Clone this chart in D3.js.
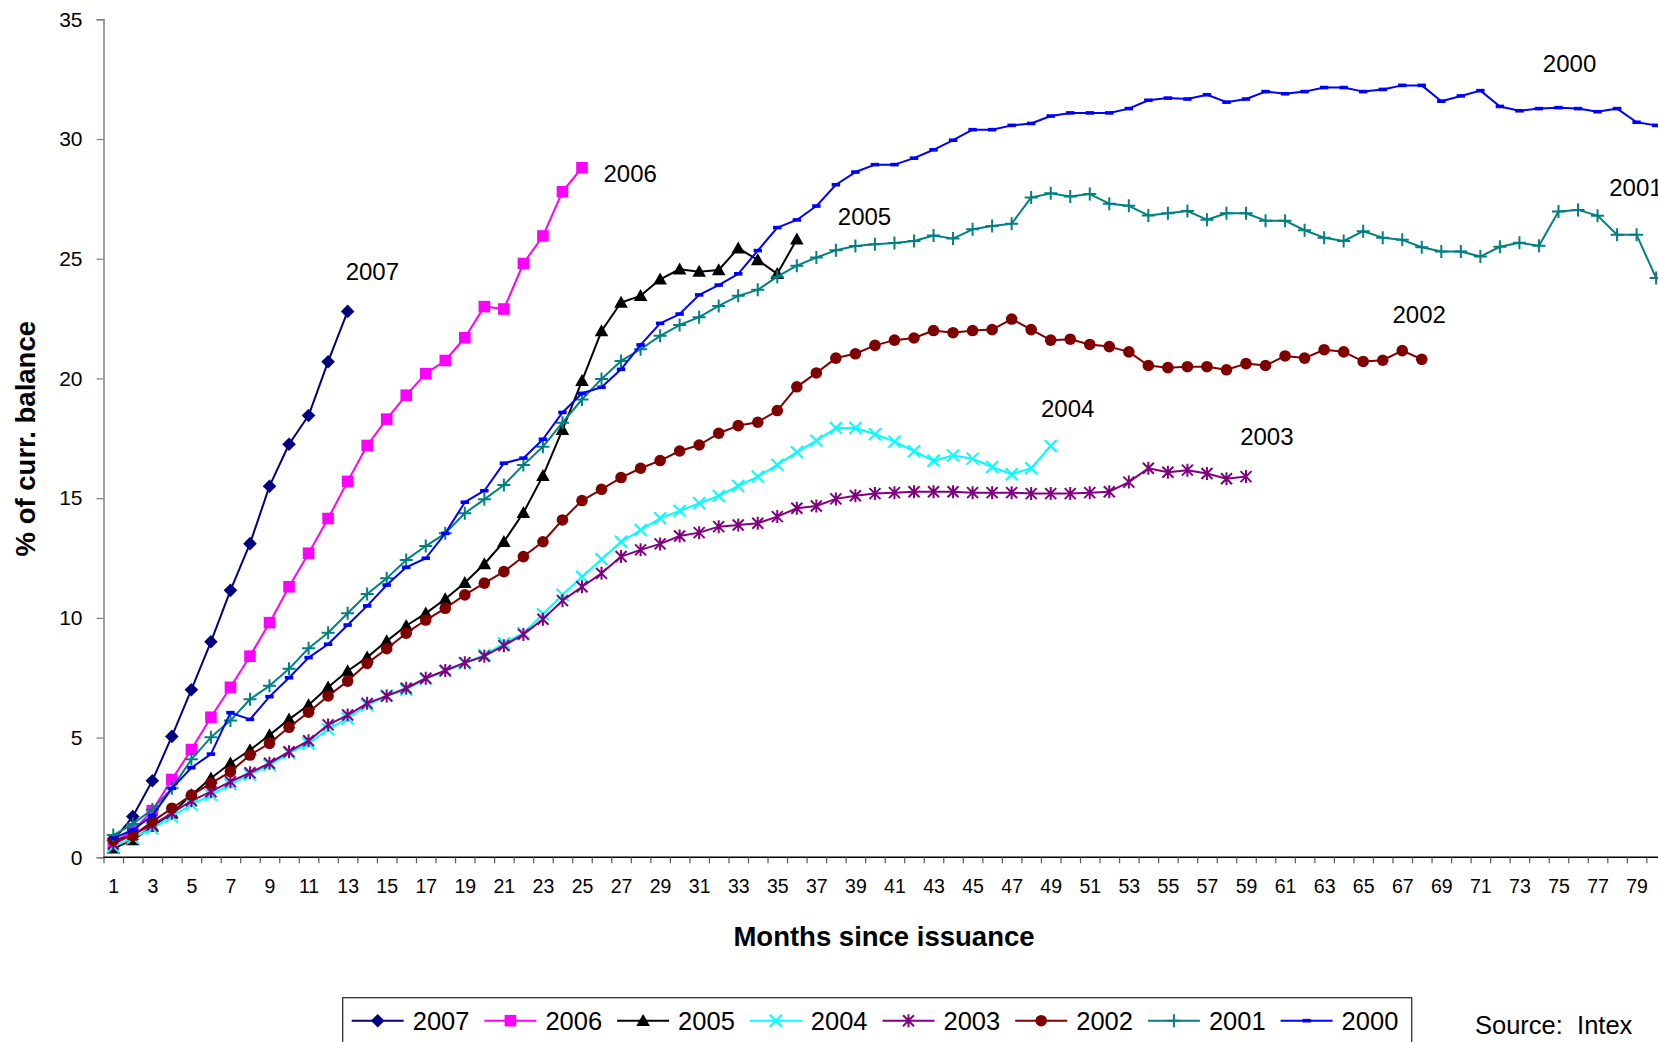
<!DOCTYPE html>
<html>
<head>
<meta charset="utf-8">
<script src="https://cdn.jsdelivr.net/npm/d3@7"></script>
<style>
  html, body { margin: 0; padding: 0; background: #fff; overflow: hidden; }
  svg { display: block; font-family: "Liberation Sans", Arial, Helvetica, sans-serif; }
</style>
</head>
<body>
<svg id="chart" width="1658" height="1042"></svg>
<script>
// ---- data: cumulative % of current balance by months since issuance ----
const years = ["2007", "2006", "2005", "2004", "2003", "2002", "2001", "2000"];
const xTickLabels = d3.range(1, 80, 2);          // 1, 3, 5, ... 79
const yTicks = [0, 5, 10, 15, 20, 25, 30, 35];

const s2007 = [0.7, 1.7, 3.2, 5.05, 7.0, 9.0, 11.15, 13.1, 15.5, 17.25, 18.45, 20.7, 22.8];
const s2006 = [0.6, 1.1, 1.95, 3.25, 4.5, 5.85, 7.1, 8.4, 9.8, 11.3, 12.7, 14.15, 15.7, 17.2, 18.3,
  19.3, 20.2, 20.75, 21.7, 23.0, 22.9, 24.8, 25.95, 27.8, 28.8];
const s2005 = [0.38, 0.72, 1.28, 1.84, 2.6, 3.3, 3.93, 4.48, 5.11, 5.76, 6.36, 7.1, 7.78, 8.35, 9.03,
  9.67, 10.19, 10.79, 11.47, 12.25, 13.18, 14.39, 15.93, 17.85, 19.9, 21.98, 23.17, 23.45, 24.14,
  24.56, 24.46, 24.53, 25.44, 24.95, 24.37, 25.81];
const s2004 = [0.45, 0.8, 1.2, 1.7, 2.2, 2.6, 3.05, 3.45, 3.85, 4.35, 4.75, 5.35, 5.8, 6.35, 6.75,
  7.0, 7.45, 7.78, 8.1, 8.45, 8.94, 9.36, 10.15, 10.96, 11.72, 12.45, 13.18, 13.67, 14.16, 14.47,
  14.79, 15.09, 15.51, 15.9, 16.39, 16.92, 17.4, 17.93, 17.93, 17.67, 17.36, 16.96, 16.56, 16.78,
  16.65, 16.3, 16.0, 16.25, 17.18];
const s2003 = [0.55, 0.95, 1.35, 1.84, 2.36, 2.74, 3.16, 3.53, 3.93, 4.41, 4.87, 5.53, 5.94, 6.43,
  6.74, 7.06, 7.48, 7.8, 8.13, 8.4, 8.84, 9.31, 9.94, 10.72, 11.3, 11.86, 12.56, 12.84, 13.09,
  13.42, 13.56, 13.81, 13.88, 13.95, 14.23, 14.58, 14.67, 14.97, 15.1, 15.19, 15.23, 15.27, 15.27,
  15.27, 15.23, 15.23, 15.23, 15.19, 15.19, 15.19, 15.23, 15.27, 15.67, 16.25, 16.08, 16.17,
  16.03, 15.81, 15.9];
const s2002 = [0.72, 0.9, 1.49, 2.05, 2.6, 3.09, 3.58, 4.27, 4.76, 5.43, 6.06, 6.74, 7.36, 8.1,
  8.71, 9.36, 9.91, 10.4, 10.96, 11.45, 11.93, 12.56, 13.18, 14.09, 14.9, 15.37, 15.86, 16.25,
  16.57, 16.97, 17.22, 17.71, 18.03, 18.17, 18.66, 19.65, 20.23, 20.85, 21.03, 21.38, 21.6, 21.69,
  22.0, 21.91, 22.0, 22.04, 22.48, 22.04, 21.6, 21.64, 21.42, 21.33, 21.11, 20.54, 20.45, 20.49,
  20.49, 20.36, 20.62, 20.54, 20.94, 20.85, 21.2, 21.11, 20.71, 20.76, 21.16, 20.8];
const s2001 = [0.93, 1.39, 2.0, 2.88, 4.09, 5.01, 5.71, 6.6, 7.16, 7.87, 8.73, 9.38, 10.19, 11.0,
  11.65, 12.42, 13.0, 13.53, 14.37, 14.95, 15.55, 16.39, 17.15, 18.15, 19.12, 19.98, 20.73, 21.22,
  21.78, 22.23, 22.56, 23.03, 23.45, 23.7, 24.25, 24.71, 25.05, 25.35, 25.53, 25.6, 25.66, 25.74,
  25.97, 25.84, 26.23, 26.37, 26.46, 27.56, 27.73, 27.6, 27.7, 27.3, 27.21, 26.81, 26.9, 26.99,
  26.63, 26.9, 26.9, 26.59, 26.59, 26.19, 25.88, 25.74, 26.15, 25.88, 25.79, 25.48, 25.3, 25.3,
  25.09, 25.5, 25.67, 25.54, 26.97, 27.04, 26.8, 26.0, 26.0, 24.19];
const s2000 = [0.79, 1.14, 1.74, 2.88, 3.74, 4.31, 6.04, 5.76, 6.71, 7.5, 8.34, 8.9, 9.7, 10.5,
  11.37, 12.11, 12.49, 13.53, 14.83, 15.31, 16.46, 16.67, 17.46, 18.58, 19.38, 19.63, 20.38, 21.4,
  22.3, 22.69, 23.49, 23.9, 24.37, 25.34, 26.3, 26.62, 27.2, 28.09, 28.62, 28.93, 28.93, 29.2,
  29.55, 29.95, 30.39, 30.39, 30.57, 30.65, 30.96, 31.09, 31.09, 31.09, 31.27, 31.62, 31.71,
  31.67, 31.85, 31.54, 31.67, 31.98, 31.89, 31.98, 32.15, 32.15, 31.98, 32.07, 32.24, 32.24,
  31.58, 31.8, 32.02, 31.36, 31.18, 31.27, 31.31, 31.27, 31.14, 31.27, 30.7, 30.57];

// in-plot year labels, anchored in data units (month, %)
const labelMonths = [12.9, 26.1, 38.1, 48.5, 58.7, 66.5, 77.6, 74.2];
const labelValues = [24.1, 28.2, 26.4, 18.4, 17.2, 22.3, 27.6, 32.8];

// ---- styling ----
const colors = {
  "2007": "#000080", "2006": "#FF00FF", "2005": "#000000", "2004": "#00FFFF",
  "2003": "#800080", "2002": "#800000", "2001": "#008080", "2000": "#0000FF"
};
const shapes = {
  "2007": "diamond", "2006": "square", "2005": "triangle", "2004": "x",
  "2003": "star", "2002": "circle", "2001": "plus", "2000": "dash"
};
const values = { "2007": s2007, "2006": s2006, "2005": s2005, "2004": s2004,
                 "2003": s2003, "2002": s2002, "2001": s2001, "2000": s2000 };

const svg = d3.select("#chart");
const W = 1658;

// month m sits at the centre of its category slot
const x = d3.scaleLinear().domain([0.5, 80.5]).range([103.5, 103.5 + 80 * 19.53]);
const y = d3.scaleLinear().domain([0, 35]).range([857.3, 19.3]);

// ---- axes ----
const yAxis = svg.append("g")
  .attr("transform", `translate(${x(0.5)},0)`)
  .call(d3.axisLeft(y).tickValues(yTicks).tickSize(7).tickPadding(14));
yAxis.select(".domain").attr("stroke", "#808080").attr("stroke-width", 1.5);
yAxis.selectAll(".tick line").attr("stroke", "#808080").attr("stroke-width", 1.2);
yAxis.selectAll(".tick text").attr("font-size", 21).attr("fill", "#000")
  .attr("font-family", "Liberation Sans, Arial, sans-serif");

const xTickAxis = svg.append("g")
  .attr("transform", `translate(0,${y(0)})`)
  .call(d3.axisBottom(x).tickValues(d3.range(0.5, 81, 1)).tickSize(6).tickFormat(""));
xTickAxis.select(".domain").attr("stroke", "#000").attr("stroke-width", 1.5)
  .attr("d", `M${x(0.5)},0H${x(80.5)}`);
xTickAxis.selectAll(".tick line").attr("stroke", "#555").attr("stroke-width", 1.2);

const xLabelAxis = svg.append("g")
  .attr("transform", `translate(0,${y(0)})`)
  .call(d3.axisBottom(x).tickValues(xTickLabels).tickSize(0).tickPadding(22).tickFormat(d3.format("d")));
xLabelAxis.select(".domain").remove();
xLabelAxis.selectAll(".tick text").attr("font-size", 19.5).attr("fill", "#000")
  .attr("font-family", "Liberation Sans, Arial, sans-serif");

// axis titles
svg.append("text")
  .attr("x", 884).attr("y", 946)
  .attr("text-anchor", "middle")
  .attr("font-size", 27.5).attr("font-weight", "bold")
  .text("Months since issuance");

svg.append("text")
  .attr("transform", "translate(35,438.7) rotate(-90)")
  .attr("text-anchor", "middle")
  .attr("font-size", 27.5).attr("font-weight", "bold")
  .text("% of curr. balance");

// ---- marker drawing ----
function drawMarker(g, shape, color) {
  switch (shape) {
    case "diamond":
      g.append("path").attr("d", "M0,-6.8L6.8,0L0,6.8L-6.8,0Z").attr("fill", color);
      break;
    case "square":
      g.append("rect").attr("x", -5.8).attr("y", -5.8).attr("width", 11.6).attr("height", 11.6).attr("fill", color);
      break;
    case "triangle":
      g.append("path").attr("d", "M0,-6.8L6.8,5.2L-6.8,5.2Z").attr("fill", color);
      break;
    case "circle":
      g.append("circle").attr("r", 5.8).attr("fill", color);
      break;
    case "x":
      g.append("path").attr("d", "M-6,-6L6,6M-6,6L6,-6").attr("stroke", color).attr("stroke-width", 2).attr("fill", "none");
      break;
    case "star":
      g.append("path").attr("d", "M-5.5,-5.5L5.5,5.5M-5.5,5.5L5.5,-5.5M0,-6.5L0,6.5").attr("stroke", color).attr("stroke-width", 2).attr("fill", "none");
      break;
    case "plus":
      g.append("path").attr("d", "M-6.5,0L6.5,0M0,-6.5L0,6.5").attr("stroke", color).attr("stroke-width", 2).attr("fill", "none");
      break;
    case "dash":
      g.append("rect").attr("x", -4.2).attr("y", -1.8).attr("width", 8.4).attr("height", 3.6).attr("fill", color);
      break;
  }
}

// ---- series (2007 first, 2000 drawn last / on top) ----
const line = d3.line().x(d => x(d.m)).y(d => y(d.v));
const plot = svg.append("g");

years.forEach(yr => {
  const pts = values[yr].map((v, i) => ({ m: i + 1, v }));
  const g = plot.append("g");
  g.append("path")
    .datum(pts)
    .attr("d", line)
    .attr("fill", "none")
    .attr("stroke", colors[yr])
    .attr("stroke-width", 2)
    .attr("stroke-linejoin", "round");
  g.selectAll("g.mk").data(pts).enter().append("g")
    .attr("class", "mk")
    .attr("transform", d => `translate(${x(d.m)},${y(d.v)})`)
    .each(function () { drawMarker(d3.select(this), shapes[yr], colors[yr]); });
});

// year labels inside the plot
svg.append("g").selectAll("text").data(years).enter().append("text")
  .attr("x", (d, i) => x(labelMonths[i]))
  .attr("y", (d, i) => y(labelValues[i]))
  .attr("font-size", 24)
  .attr("fill", "#000")
  .text(d => d);

// ---- legend ----
const legend = svg.append("g");
legend.append("rect")
  .attr("x", 342.7).attr("y", 997.7)
  .attr("width", 1069).attr("height", 80)
  .attr("fill", "#fff").attr("stroke", "#333").attr("stroke-width", 1.3);

const entry = legend.selectAll("g.entry").data(years).enter().append("g")
  .attr("class", "entry")
  .attr("transform", (d, i) => `translate(${351.7 + i * 132.7},1020.7)`);
entry.append("line")
  .attr("x1", 0).attr("x2", 52).attr("y1", 0).attr("y2", 0)
  .attr("stroke", d => colors[d]).attr("stroke-width", 2);
entry.append("g")
  .attr("transform", "translate(26,0)")
  .each(function (d) { drawMarker(d3.select(this), shapes[d], colors[d]); });
entry.append("text")
  .attr("x", 61).attr("y", 8.8)
  .attr("font-size", 25.5)
  .attr("fill", "#000")
  .text(d => d);

svg.append("text")
  .attr("x", 1475).attr("y", 1034)
  .attr("font-size", 25.5)
  .style("white-space", "pre")
  .attr("fill", "#000")
  .text("Source:  Intex");
</script>
</body>
</html>
